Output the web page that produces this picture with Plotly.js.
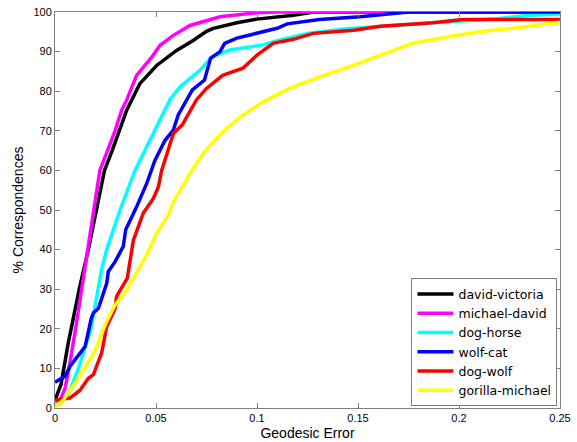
<!DOCTYPE html>
<html><head><meta charset="utf-8">
<script src="https://cdn.plot.ly/plotly-3.0.1.min.js"></script>
<style>body{margin:0;background:#fff}#c{width:577px;height:442px}</style>
</head><body><div id="c"></div>
<script>
const names = ['david-victoria','michael-david','dog-horse','wolf-cat','dog-wolf','gorilla-michael'];
const colors = ['#000000','#ff00ff','#00ffff','#0000ff','#ff0000','#ffff00'];

const dvX = [0,0.003,0.0066,0.0079,0.012,0.0165,0.0205,0.0245,0.0283,0.032,0.0355,0.038,0.042,0.0503,0.0602,0.0684,0.075,0.078,0.09,0.0998,0.118,0.128,0.25];
const dvY = [2,6,16.5,20,30,40,50.5,60,65,70,75.2,77.8,81.9,86.5,90.3,92.8,95.1,95.8,97.3,98.2,99.2,100,100];

const mdX = [0,0.0025,0.005,0.0069,0.0102,0.0132,0.016,0.019,0.0222,0.026,0.0297,0.033,0.0355,0.0404,0.0479,0.052,0.0586,0.0668,0.075,0.0817,0.0998,0.11,0.25];
const mdY = [1,2,5,10,20,30,40,50.5,60,65,70,75.2,77.8,84,88.6,91.6,94.1,96.6,97.9,98.8,99.8,100,100];

const dhX = [0,0.0025,0.0066,0.0116,0.0178,0.0206,0.0231,0.0256,0.0297,0.0322,0.0396,0.0495,0.057,0.062,0.072,0.0777,0.0866,0.103,0.111,0.125,0.144,0.177,0.202,0.219,0.235,0.25];
const dhY = [1,1,3.5,10,20,27.6,35,40,46,50,60,70,78,81.1,85.4,88.7,90.4,91.7,92.9,94.6,95.8,96.9,97.8,98.3,99.2,99.5];

const wcX = [0,0.0017,0.005,0.0074,0.0149,0.018,0.019,0.0215,0.024,0.0256,0.0264,0.0297,0.0338,0.035,0.0404,0.0454,0.0495,0.0545,0.0586,0.061,0.068,0.074,0.077,0.0817,0.084,0.09,0.098,0.11,0.115,0.131,0.151,0.169,0.175,0.25];
const wcY = [6.5,7,8,10.5,15.5,22.7,24,25.2,29,31.5,34.5,36.9,40.8,45,50.8,56.7,62.6,67.6,70.2,74,80.3,82.8,88.3,90,92.1,93.4,94.4,95.9,97,98.1,98.8,99.7,100,100];

const dwX = [0,0.0074,0.0124,0.0165,0.019,0.0231,0.0256,0.0297,0.0305,0.0358,0.0388,0.0437,0.0487,0.0512,0.0528,0.0561,0.0586,0.063,0.070,0.075,0.083,0.093,0.100,0.108,0.118,0.128,0.148,0.161,0.187,0.202,0.25];
const dwY = [2,2.5,4.5,7.5,8.4,13.9,20.6,25,28.2,32.8,42.4,49.2,52.9,55.9,60,65.1,69.3,71.5,77.8,80.7,84,85.8,89.1,92.1,93.1,94.6,95.4,96.4,97.3,98.1,98.1];

const gmX = [0,0.0008,0.0041,0.0116,0.0198,0.0248,0.0297,0.0355,0.0454,0.0503,0.0561,0.0586,0.0668,0.0734,0.0784,0.084,0.0916,0.103,0.116,0.133,0.148,0.164,0.177,0.194,0.210,0.227,0.248,0.25];
const gmY = [0.5,0.5,2,7.5,14.4,21,26,29.8,38.7,44.1,48.7,52.1,59.2,64.3,67.2,70.2,73.5,77.3,80.7,84,86.6,89.6,92.1,93.7,95,95.9,97.3,97.4];

const xs = [dvX,mdX,dhX,wcX,dwX,gmX];
const ys = [dvY,mdY,dhY,wcY,dwY,gmY];

const xTicks = [0,0.05,0.1,0.15,0.2,0.25];
const xTickText = ['0','0.05','0.1','0.15','0.2','0.25'];
const yTicks = [0,10,20,30,40,50,60,70,80,90,100];

const traces = names.map((n,i)=>({x:xs[i],y:ys[i],name:n,type:'scatter',mode:'lines',
  line:{color:colors[i],width:3.5}}));

const axisCommon = {showgrid:false,zeroline:false,showline:true,linecolor:'#808080',linewidth:1,
  mirror:'ticks',ticks:'inside',ticklen:5,tickcolor:'#808080',
  tickfont:{family:'Liberation Sans, Arial',size:11,color:'#000'}};

Plotly.newPlot('c',traces,{
  width:577,height:442,
  margin:{l:55,r:17,t:12,b:34},
  paper_bgcolor:'#fff',plot_bgcolor:'#fff',
  font:{family:'Liberation Sans, Arial',color:'#000'},
  xaxis:Object.assign({},axisCommon,{range:[0,0.25],tickvals:xTicks,ticktext:xTickText,
    title:{text:'Geodesic Error',font:{size:14},standoff:4}}),
  yaxis:Object.assign({},axisCommon,{range:[0,100],tickvals:yTicks,
    title:{text:'% Correspondences',font:{size:14},standoff:6}}),
  legend:{x:0.995,xanchor:'right',y:0.004,yanchor:'bottom',bgcolor:'#fff',
    bordercolor:'#808080',borderwidth:1,font:{family:'DejaVu Sans',size:12.5,color:'#000'},itemwidth:36,tracegroupgap:0},
  showlegend:true
},{displayModeBar:false,staticPlot:true});
</script></body></html>
